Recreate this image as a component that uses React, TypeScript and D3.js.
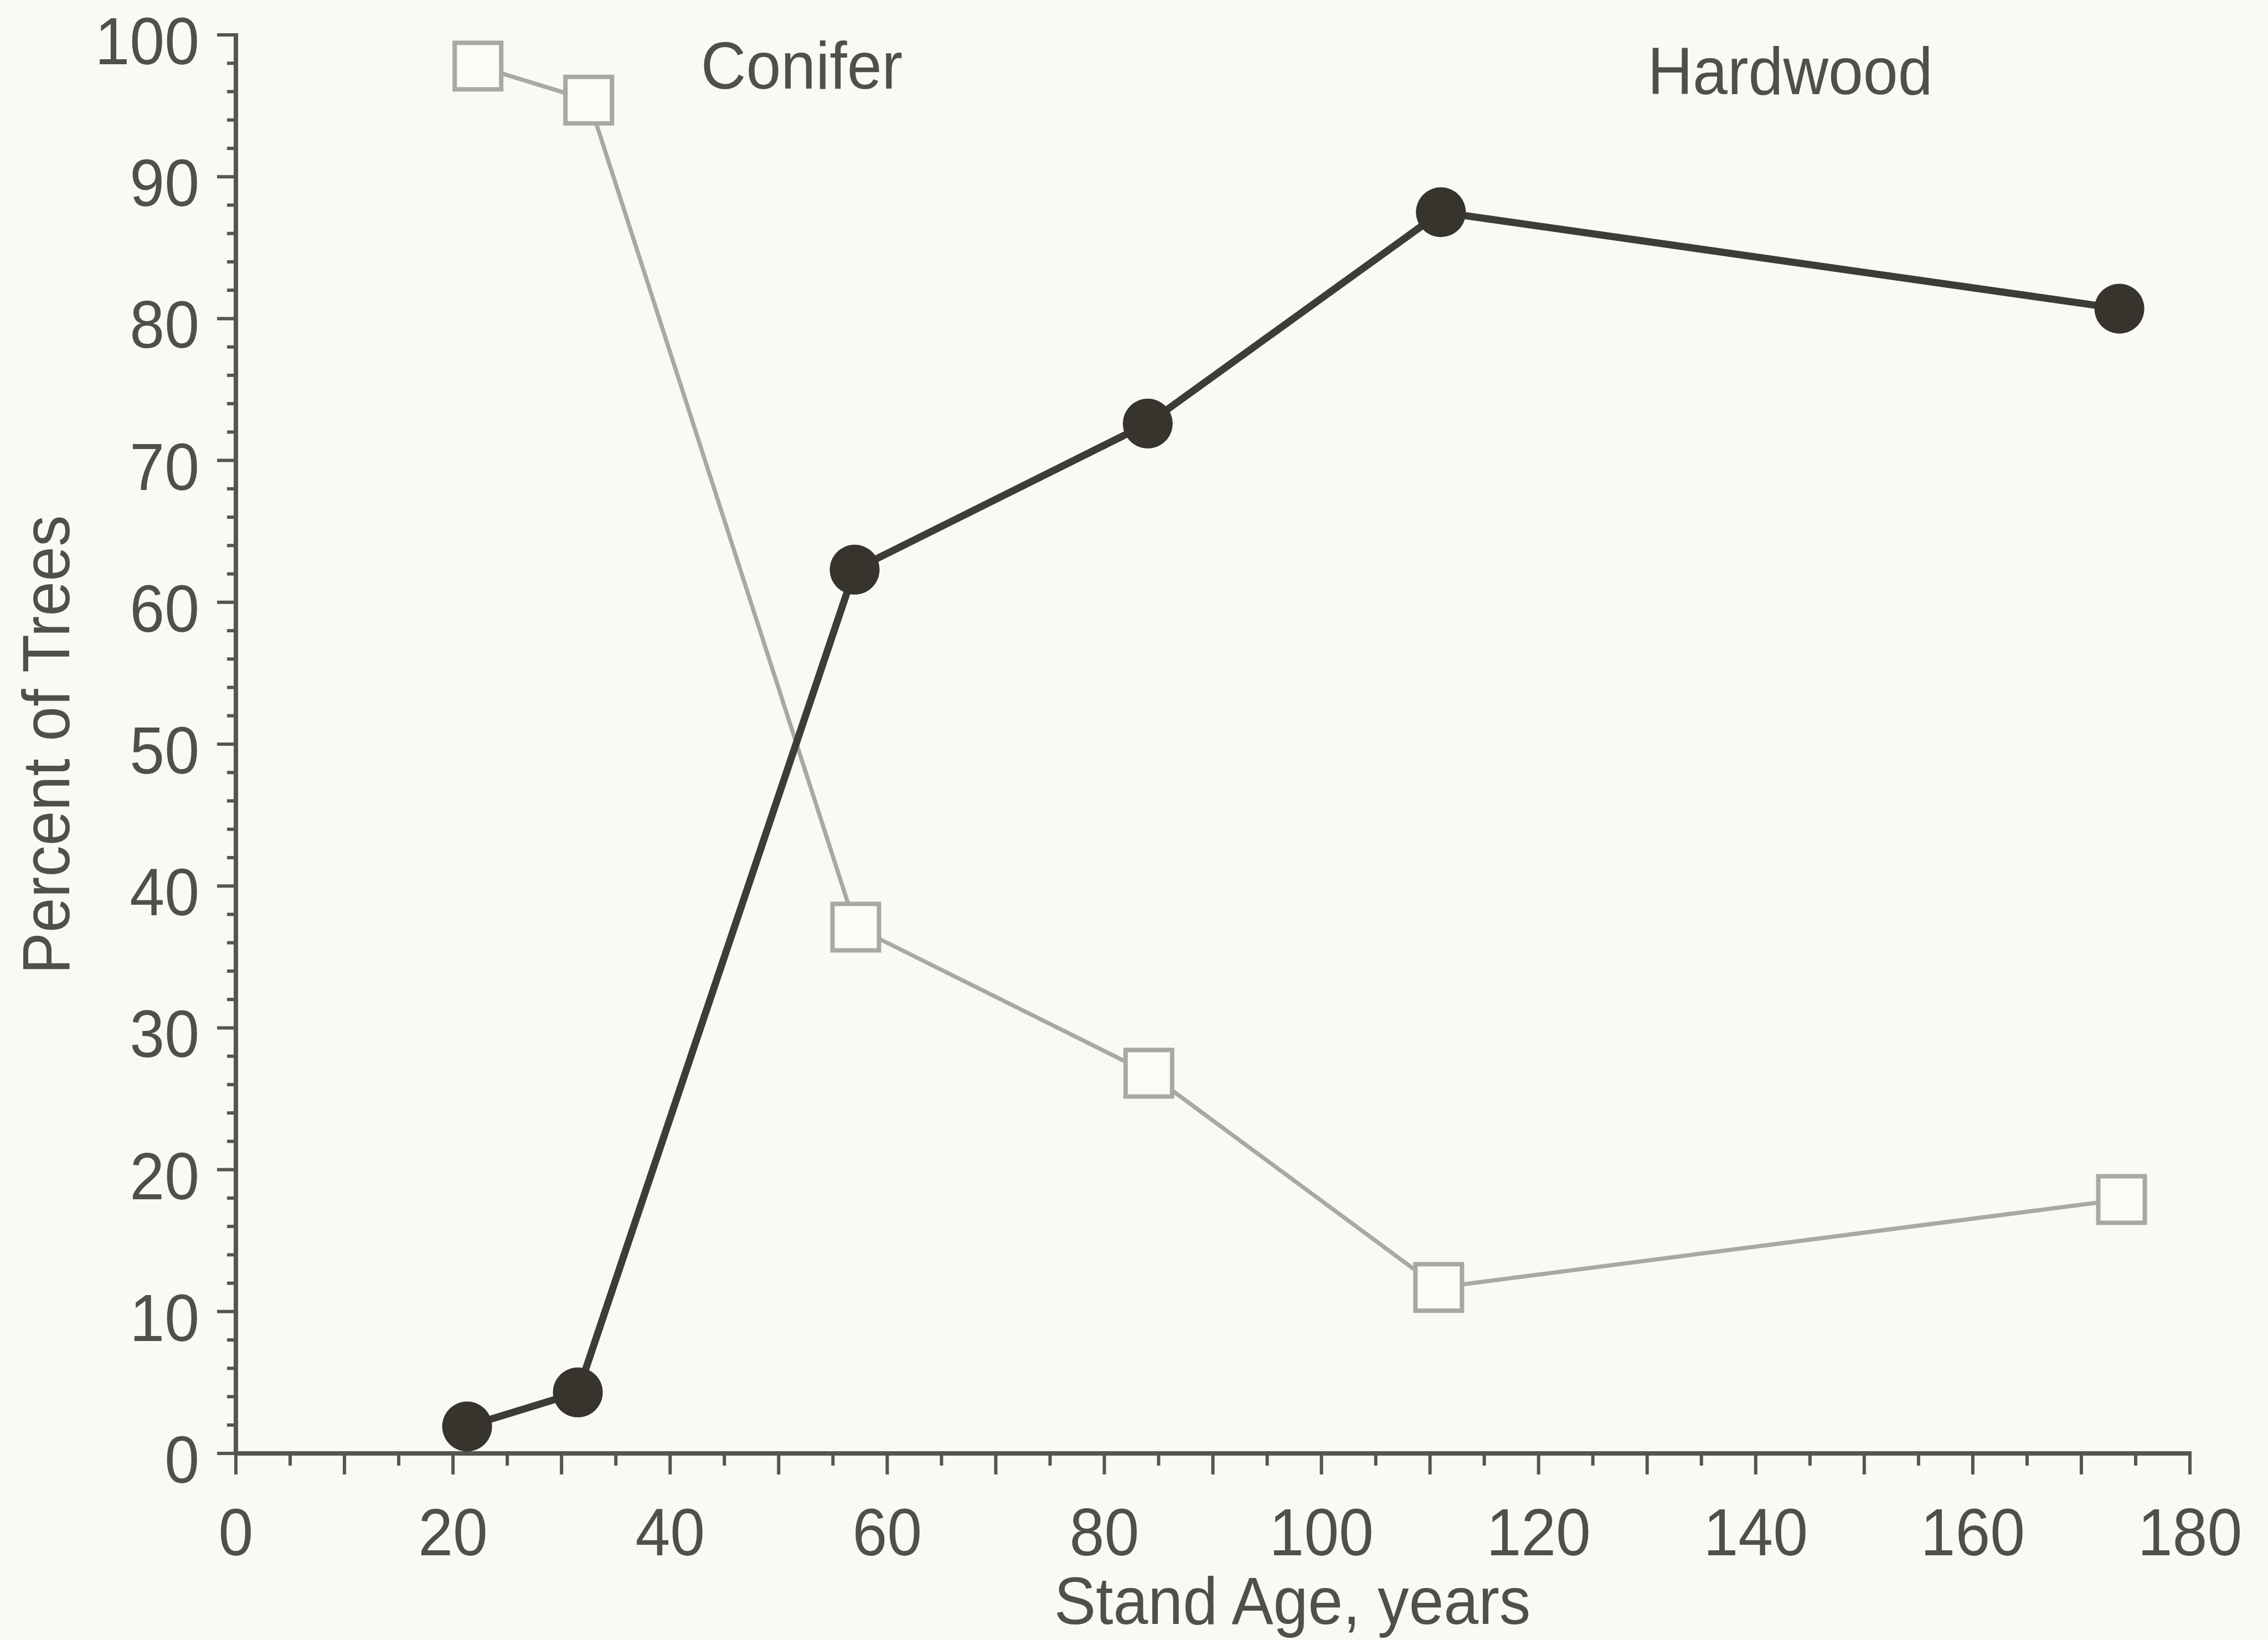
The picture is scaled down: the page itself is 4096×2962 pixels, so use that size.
import React from 'react';
import * as d3 from 'd3';

// values
const hardwoodAge = [21.3, 31.5, 57, 84, 111, 173.5];
const hardwoodPct = [1.9, 4.3, 62.3, 72.6, 87.5, 80.7];
const coniferAge = [22.3, 32.5, 57.1, 84.1, 110.8, 173.7];
const coniferPct = [97.8, 95.4, 37.1, 26.8, 11.7, 17.9];

const xTickLabels = [0, 20, 40, 60, 80, 100, 120, 140, 160, 180];
const yTickLabels = [0, 10, 20, 30, 40, 50, 60, 70, 80, 90, 100];

const W = 4096;
const H = 2962;
const FONT = '"Liberation Sans", Arial, Helvetica, sans-serif';
const TEXT = '#4f5049';
const AXIS = '#57554f';
const FS = 113;
const SY = 1.07; // scanned lettering is a bit taller than Arial

const Label = ({ x, y, rotate = 0, anchor = 'middle', children }) => (
    <text
        transform={`translate(${x},${y}) rotate(${rotate}) scale(1,${SY})`}
        textAnchor={anchor}
        fontFamily={FONT}
        fontSize={FS}
        fill={TEXT}
    >
        {children}
    </text>
);

const App = () => {
    const x = d3.scaleLinear().domain([0, 180]).range([426, 3955]);
    const y = d3.scaleLinear().domain([0, 100]).range([2625, 63]);

    const hardwood = hardwoodAge.map((a, i) => [a, hardwoodPct[i]]);
    const conifer = coniferAge.map((a, i) => [a, coniferPct[i]]);
    const line = d3.line().x(d => x(d[0])).y(d => y(d[1]));

    const yMinor = d3.range(0, 101, 2);
    const xMinor = d3.range(0, 181, 5);
    const side = 84;

    return (
        <svg width={W} height={H} style={{ position: 'absolute', left: 0, top: 0, background: '#f9f9f5' }}>
            <rect x={0} y={0} width={W} height={H} fill="#f9f9f5" />

            {/* axes */}
            <g stroke={AXIS} strokeWidth={6}>
                {yMinor.map(v => (
                    <line key={'ym' + v} x1={x(0)} x2={x(0) - (v % 10 === 0 ? 34 : 16)} y1={y(v)} y2={y(v)} />
                ))}
                {xMinor.map(v => (
                    <line key={'xm' + v} x1={x(v)} x2={x(v)} y1={y(0)} y2={y(0) + (v % 10 === 0 ? 38 : 22)} />
                ))}
                <line x1={x(0)} x2={x(0)} y1={y(100) - 3} y2={y(0) + 3} strokeWidth={8} />
                <line x1={x(0) - 3} x2={x(180) + 3} y1={y(0)} y2={y(0)} strokeWidth={8} />
            </g>

            {yTickLabels.map(v => (
                <Label key={'yl' + v} x={x(0) - 66} y={y(v) + 53} anchor="end">{v}</Label>
            ))}
            {xTickLabels.map(v => (
                <Label key={'xl' + v} x={x(v)} y={2809}>{v}</Label>
            ))}

            <Label x={125} y={1345} rotate={-90}>Percent of Trees</Label>
            <Label x={2334} y={2933}>Stand Age, years</Label>
            <Label x={1448} y={160}>Conifer</Label>
            <Label x={3233} y={170}>Hardwood</Label>

            {/* conifer: grey line, open squares */}
            <path d={line(conifer)} fill="none" stroke="#a9a9a0" strokeWidth={7.5} strokeLinejoin="round" />
            {conifer.map((d, i) => (
                <rect
                    key={'c' + i}
                    x={x(d[0]) - side / 2}
                    y={y(d[1]) - side / 2}
                    width={side}
                    height={side}
                    fill="#fbfbf8"
                    stroke="#a9a9a0"
                    strokeWidth={8}
                />
            ))}

            {/* hardwood: dark line, filled circles */}
            <path d={line(hardwood)} fill="none" stroke="#3e3c36" strokeWidth={13} strokeLinejoin="round" />
            {hardwood.map((d, i) => (
                <circle key={'h' + i} cx={x(d[0])} cy={y(d[1])} r={45} fill="#37342d" />
            ))}
        </svg>
    );
};

export default App;
